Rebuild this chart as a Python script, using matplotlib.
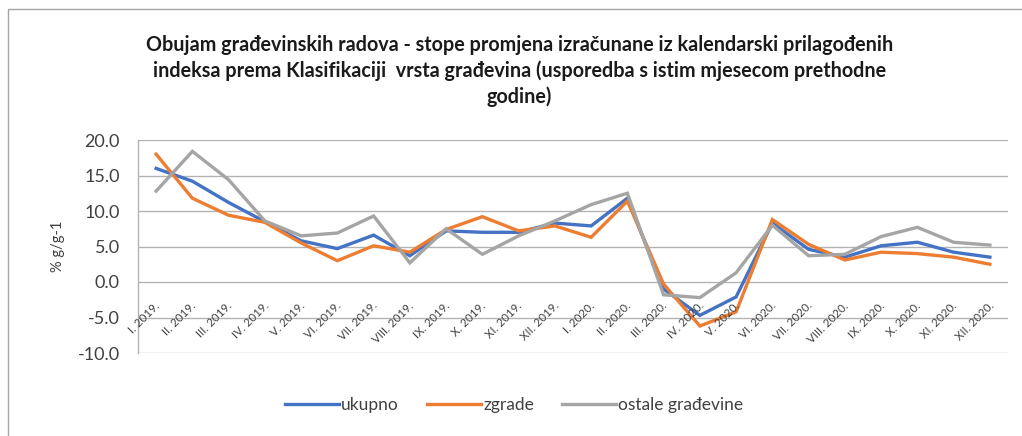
import matplotlib
matplotlib.use("Agg")
import matplotlib.pyplot as plt
from matplotlib.patches import Rectangle
import matplotlib.transforms as mtransforms

months = ["I. 2019.", "II. 2019.", "III. 2019.", "IV. 2019.", "V. 2019.", "VI. 2019.",
          "VII. 2019.", "VIII. 2019.", "IX. 2019.", "X. 2019.", "XI. 2019.", "XII. 2019.",
          "I. 2020.", "II. 2020.", "III. 2020.", "IV. 2020.", "V. 2020.", "VI. 2020.",
          "VII. 2020.", "VIII. 2020.", "IX. 2020.", "X. 2020.", "XI. 2020.", "XII. 2020."]

ukupno = [16.0, 14.2, 11.2, 8.5, 5.8, 4.7, 6.6, 3.7, 7.2, 7.0, 7.0, 8.3,
          7.9, 11.8, -1.0, -4.7, -2.1, 8.3, 4.6, 3.5, 5.1, 5.6, 4.2, 3.5]
zgrade = [18.0, 11.8, 9.4, 8.4, 5.5, 3.0, 5.1, 4.2, 7.4, 9.2, 7.2, 7.9,
          6.3, 11.4, -0.3, -6.2, -4.2, 8.8, 5.3, 3.1, 4.2, 4.0, 3.5, 2.5]
ostale = [12.8, 18.4, 14.4, 8.6, 6.5, 6.9, 9.3, 2.7, 7.5, 3.9, 6.5, 8.6,
          10.9, 12.5, -1.8, -2.2, 1.3, 8.0, 3.7, 3.9, 6.4, 7.7, 5.6, 5.2]

series_names = ["ukupno", "zgrade", "ostale građevine"]
colors = ["#4472C4", "#ED7D31", "#A5A5A5"]

title = ("Obujam građevinskih radova - stope promjena izračunane iz kalendarski prilagođenih\n"
         "indeksa prema Klasifikaciji  vrsta građevina (usporedba s istim mjesecom prethodne\n"
         "godine)")

yticks = [20.0, 15.0, 10.0, 5.0, 0.0, -5.0, -10.0]

plt.rcParams['font.family'] = ['Lato', 'DejaVu Sans']

W, H = 1022, 436
fig = plt.figure(figsize=(W / 100, H / 100), dpi=100)

# outer chart border
fig.patches.append(Rectangle((8 / W, -0.1), 1.2, 1 - 9 / H + 0.1, transform=fig.transFigure,
                             fill=False, edgecolor="#A6A6A6", linewidth=1.0))

ax = fig.add_axes([138 / W, 1 - 353 / H, (1008 - 138) / W, (353 - 140) / H])

x = list(range(len(months)))
for vals, name, c in zip([ukupno, zgrade, ostale], series_names, colors):
    ax.plot(x, vals, color=c, linewidth=2.4, label=name, solid_joinstyle='miter')

ax.set_xlim(-0.5, len(months) - 0.5)
ax.set_ylim(-10, 20)
ax.set_yticks(yticks)
ax.set_yticklabels([f"{v:.1f}" for v in yticks], fontsize=13, color="#404040")
ax.tick_params(axis='y', length=0, pad=13)
ax.set_xticks([])
ax.grid(axis='y', color="#B3B3B3", linewidth=1.0)
ax.set_axisbelow(True)
for s in ["top", "right", "bottom"]:
    ax.spines[s].set_visible(False)
ax.spines["left"].set_color("#B3B3B3")
ax.spines["left"].set_linewidth(1.0)

# category labels next to the zero axis
for xi, lab in zip(x, months):
    off = mtransforms.offset_copy(ax.transData, fig=fig, x=2, y=-22, units='dots')
    ax.text(xi, 0, lab, transform=off, rotation=45, rotation_mode='anchor',
            ha='right', va='center', fontsize=8.3, color="#404040")

ax.set_ylabel("% g/g-1", fontsize=10.5, color="#404040", labelpad=9)

fig.text(0.508, 1 - 71 / H, title, ha='center', va='center', fontsize=14.2,
         fontweight='bold', linespacing=1.33, color="#1a1a1a")

leg = fig.legend(loc='center', bbox_to_anchor=(0.503, 1 - 405 / H), ncol=3, frameon=False,
                 fontsize=12.5, handlelength=3.1, columnspacing=1.6, handletextpad=0.15)
for t in leg.get_texts():
    t.set_color("#404040")

fig.savefig("out.png", dpi=100)
